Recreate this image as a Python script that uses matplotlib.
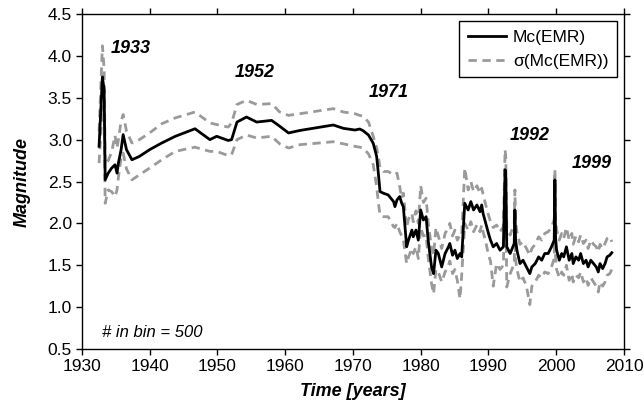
import matplotlib
matplotlib.use('Agg')
import matplotlib.pyplot as plt

plt.rcParams['font.family'] = ['Liberation Sans', 'DejaVu Sans']

# time axis (years) and Mc with its +/- sigma bounds
years = [1932.55, 1933.04, 1933.3, 1933.45, 1933.9, 1934.4, 1934.9, 1935.2, 1935.4, 1935.8,
         1936.1, 1936.6, 1937.4, 1938.5, 1940.0, 1941.8, 1943.8, 1946.7, 1948.9, 1949.9,
         1951.6, 1952.1, 1952.9, 1954.3, 1955.8, 1958.0, 1959.2, 1960.5, 1962.2, 1967.1,
         1968.6, 1970.3, 1971.0, 1971.5, 1972.3, 1973.0, 1973.5, 1973.75, 1974.0, 1974.5,
         1975.2, 1976.0, 1976.2, 1976.5, 1976.9, 1977.2, 1977.44, 1977.93, 1978.2, 1978.7,
         1978.9, 1979.3, 1979.65, 1980.0, 1980.4, 1980.8, 1981.1, 1981.6, 1981.9, 1982.25,
         1982.6, 1983.1, 1983.6, 1984.1, 1984.3, 1984.7, 1985.05, 1985.4, 1985.8, 1986.05,
         1986.5, 1987.0, 1987.4, 1987.8, 1988.3, 1988.75, 1989.0, 1989.2, 1989.6, 1990.0,
         1990.3, 1990.7, 1991.2, 1991.7, 1992.2, 1992.45, 1992.55, 1992.7, 1993.2, 1993.8,
         1993.9, 1994.0, 1994.2, 1994.65, 1995.1, 1995.6, 1996.1, 1996.4, 1996.9, 1997.4,
         1997.85, 1998.3, 1998.8, 1999.3, 1999.7, 1999.8, 1999.9, 2000.05, 2000.45, 2000.8,
         2001.1, 2001.5, 2001.9, 2002.3, 2002.5, 2002.9, 2003.3, 2003.6, 2004.0, 2004.4,
         2004.7, 2005.1, 2005.5, 2005.9, 2006.2, 2006.45, 2006.85, 2007.2, 2007.5, 2007.9,
         2008.2]

mc = [2.92, 3.75, 3.59, 2.52, 2.60, 2.66, 2.70, 2.60, 2.72, 2.88,
      3.06, 2.88, 2.76, 2.80, 2.88, 2.96, 3.04, 3.13, 3.00, 3.04,
      2.99, 3.00, 3.21, 3.27, 3.21, 3.23, 3.16, 3.08, 3.11, 3.175,
      3.135, 3.115, 3.127, 3.107, 3.055, 2.956, 2.80, 2.60, 2.38, 2.36,
      2.34, 2.26, 2.20, 2.28, 2.32, 2.24, 2.20, 1.72, 1.80, 1.92,
      1.84, 1.92, 1.80, 2.16, 2.04, 2.08, 1.80, 1.48, 1.40, 1.68,
      1.64, 1.48, 1.64, 1.72, 1.76, 1.62, 1.68, 1.58, 1.64, 1.60,
      2.24, 2.16, 2.26, 2.16, 2.22, 2.14, 2.22, 2.12, 2.00, 1.88,
      1.80, 1.72, 1.76, 1.68, 1.72, 2.64, 2.60, 1.72, 1.64, 1.76,
      2.16, 1.80, 1.68, 1.52, 1.56, 1.48, 1.40, 1.48, 1.52, 1.60,
      1.56, 1.64, 1.64, 1.72, 1.80, 2.52, 1.82, 1.68, 1.56, 1.64,
      1.60, 1.72, 1.56, 1.64, 1.52, 1.60, 1.56, 1.64, 1.52, 1.56,
      1.48, 1.56, 1.52, 1.48, 1.42, 1.52, 1.46, 1.52, 1.60, 1.62,
      1.65]

mc_hi = [3.10, 4.12, 3.85, 2.70, 2.75, 2.85, 3.05, 2.90, 3.00, 3.22,
         3.30, 3.10, 2.96, 3.00, 3.08, 3.19, 3.26, 3.33, 3.20, 3.18,
         3.15, 3.20, 3.42, 3.47, 3.42, 3.43, 3.33, 3.29, 3.31, 3.37,
         3.33, 3.31, 3.29, 3.28, 3.21, 3.04, 2.90, 2.80, 2.66, 2.62,
         2.62, 2.58, 2.58, 2.60, 2.44, 2.30, 2.36, 1.95, 2.05, 2.12,
         2.02, 2.15, 2.00, 2.45, 2.25, 2.30, 2.02, 1.70, 1.62, 1.95,
         1.85, 1.70, 1.88, 1.95, 2.00, 1.85, 1.92, 1.80, 1.86, 1.85,
         2.66, 2.40, 2.50, 2.38, 2.45, 2.36, 2.42, 2.35, 2.22, 2.10,
         2.02, 1.95, 1.98, 1.90, 1.96, 2.88, 2.80, 1.95, 1.86, 2.00,
         2.40, 2.02, 1.90, 1.75, 1.78, 1.70, 1.62, 1.70, 1.75, 1.84,
         1.80, 1.88, 1.90, 1.95, 2.05, 2.64, 2.06, 1.92, 1.80, 1.88,
         1.82, 1.95, 1.80, 1.88, 1.75, 1.85, 1.78, 1.86, 1.76, 1.80,
         1.70, 1.80, 1.75, 1.72, 1.66, 1.75, 1.70, 1.76, 1.82, 1.84,
         1.78]

mc_lo = [2.72, 3.40, 3.30, 2.24, 2.40, 2.38, 2.32, 2.40, 2.55, 2.78,
         2.84, 2.65, 2.52, 2.58, 2.66, 2.76, 2.86, 2.91, 2.86, 2.86,
         2.81, 2.82, 3.00, 3.055, 3.02, 3.04, 2.95, 2.90, 2.94, 2.975,
         2.95, 2.92, 2.91, 2.90, 2.83, 2.70, 2.44, 2.25, 2.10, 2.08,
         2.08, 1.96, 1.95, 2.00, 1.90, 1.85, 1.80, 1.52, 1.60, 1.70,
         1.64, 1.72, 1.58, 1.95, 1.85, 1.86, 1.60, 1.28, 1.16, 1.45,
         1.42, 1.30, 1.42, 1.50, 1.55, 1.40, 1.45, 1.32, 1.10, 1.38,
         2.00, 1.92, 2.02, 1.90, 1.98, 1.90, 1.98, 1.90, 1.78, 1.62,
         1.55, 1.25, 1.52, 1.45, 1.50, 2.40, 2.36, 1.24, 1.40, 1.52,
         1.90, 1.56, 1.45, 1.30, 1.35, 1.25, 1.03, 1.25, 1.30, 1.38,
         1.35, 1.42, 1.40, 1.48, 1.58, 2.30, 1.60, 1.45, 1.35, 1.42,
         1.38, 1.50, 1.32, 1.40, 1.30, 1.38, 1.35, 1.42, 1.30, 1.35,
         1.26, 1.35, 1.30, 1.25, 1.18, 1.30, 1.25, 1.30, 1.38, 1.40,
         1.45]

# event labels
ev_text = ['1933', '1952', '1971', '1992', '1999']
ev_x = [1934.3, 1952.6, 1972.3, 1993.2, 2002.3]
ev_y = [4.09, 3.80, 3.56, 3.05, 2.71]

fig = plt.figure(figsize=(6.44, 4.13), dpi=100)
ax = fig.add_axes([0.127, 0.155, 0.842, 0.811])

ax.plot(years, mc_hi, color='#9a9a9a', lw=2, ls=(0, (3, 2)), label='σ(Mc(EMR))')
ax.plot(years, mc_lo, color='#9a9a9a', lw=2, ls=(0, (3, 2)))
ax.plot(years, mc, color='black', lw=2, label='Mc(EMR)')

for t, x, y in zip(ev_text, ev_x, ev_y):
    ax.text(x, y, t, fontsize=13, fontweight='bold', fontstyle='italic', va='center', ha='left')

ax.text(1932.95, 0.70, '# in bin = 500', fontsize=12, fontstyle='italic', va='center', ha='left')

ax.set_xlim(1930, 2010)
ax.set_ylim(0.5, 4.5)
ax.set_xticks(range(1930, 2011, 10))
ax.set_yticks([0.5, 1.0, 1.5, 2.0, 2.5, 3.0, 3.5, 4.0, 4.5])
ax.set_yticklabels(['%.1f' % v for v in ax.get_yticks()])
ax.tick_params(direction='out', length=4, width=1, labelsize=12.5,
               top=True, right=True, pad=3)
for s in ax.spines.values():
    s.set_linewidth(1)

ax.set_xlabel('Time [years]', fontsize=13, fontweight='bold', fontstyle='italic', labelpad=7)
ax.set_ylabel('Magnitude', fontsize=13, fontweight='bold', fontstyle='italic', labelpad=12)

h, l = ax.get_legend_handles_labels()
leg = ax.legend(h[::-1], l[::-1], loc='upper right', fontsize=12.5, frameon=True,
                fancybox=False, edgecolor='black', framealpha=1, handlelength=2.2,
                handletextpad=0.4, borderaxespad=0.4, borderpad=0.5, labelspacing=0.5)
leg.get_frame().set_linewidth(1)

fig.savefig('out.png', dpi=100)
